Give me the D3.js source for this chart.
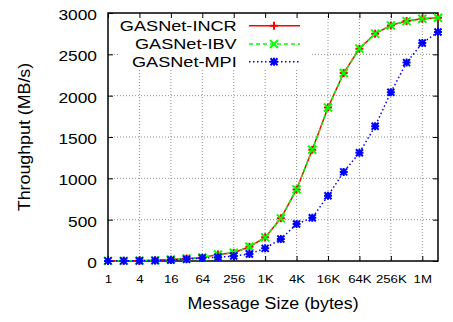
<!DOCTYPE html>
<html>
<head>
<meta charset="utf-8">
<title>GASNet throughput</title>
<style>
  body { margin: 0; background: #fff; }
  text { font-family: "Liberation Sans", Arial, sans-serif; fill: #000; }
</style>
</head>
<body>
<script src="https://d3js.org/d3.v7.min.js"></script>
<script>

// message sizes in bytes, one point per power of two
var sizes = [1, 2, 4, 8, 16, 32, 64, 128, 256, 512, 1024, 2048, 4096, 8192,
             16384, 32768, 65536, 131072, 262144, 524288, 1048576, 2097152];

// throughput in MB/s
var incr = [1, 2, 4, 8, 18, 30, 40, 80, 100, 173, 286, 516, 866, 1345,
            1856, 2274, 2569, 2750, 2850, 2902, 2931, 2943];
var ibv  = [1, 2, 4, 8, 18, 30, 42, 78, 100, 173, 286, 516, 866, 1345,
            1856, 2274, 2569, 2750, 2850, 2902, 2931, 2943];
var mpi  = [1, 2, 3, 6, 12, 22, 36, 45, 60, 85, 153, 266, 447, 523,
            789, 1078, 1310, 1630, 2041, 2400, 2637, 2770];

var seriesNames = ["GASNet-INCR", "GASNet-IBV", "GASNet-MPI"];
var xTicks = [1, 4, 16, 64, 256, 1024, 4096, 16384, 65536, 262144, 1048576];
var xTickLabels = ["1", "4", "16", "64", "256", "1K", "4K", "16K", "64K", "256K", "1M"];
var yTicks = [0, 500, 1000, 1500, 2000, 2500, 3000];

var colors = ["#ff0000", "#00ff00", "#0000ff"];
var dashes = [null, "4,3", "1.5,2.5"];
var markers = ["M-4,0H4M0,-4V4",
               "M-4,-4L4,4M-4,4L4,-4",
               "M-4,0H4M0,-4V4M-3.5,-3.5L3.5,3.5M-3.5,3.5L3.5,-3.5"];

var margin = {top: 13, right: 15, bottom: 61, left: 108},
    W = 453, H = 322,
    width = W - margin.left - margin.right,
    height = H - margin.top - margin.bottom;

var x = d3.scaleLog().base(2).domain([1, 2097152]).range([0, width]);
var y = d3.scaleLinear().domain([0, 3000]).range([height, 0]);

var svg = d3.select("body").append("svg")
    .attr("width", W)
    .attr("height", H);

var g = svg.append("g")
    .attr("transform", "translate(" + margin.left + "," + margin.top + ")");

// grid
g.selectAll(".vgrid").data(xTicks.slice(1)).enter().append("line")
    .attr("x1", function(d) { return x(d); })
    .attr("x2", function(d) { return x(d); })
    .attr("y1", 0).attr("y2", height)
    .style("stroke", "#909090").style("stroke-dasharray", "1,2");
g.selectAll(".hgrid").data(yTicks.slice(1, -1)).enter().append("line")
    .attr("x1", 0).attr("x2", width)
    .attr("y1", function(d) { return y(d); })
    .attr("y2", function(d) { return y(d); })
    .style("stroke", "#909090").style("stroke-dasharray", "1,2");

// legend box hides the grid behind it
g.append("rect")
    .attr("x", 10).attr("y", 0)
    .attr("width", 193).attr("height", 57)
    .style("fill", "#fff");

// axes (ticks point inward, mirrored on top and right)
var xAxis = g.append("g")
    .attr("transform", "translate(0," + height + ")")
    .call(d3.axisBottom(x).tickValues(xTicks)
        .tickFormat(function(d) { return xTickLabels[xTicks.indexOf(d)]; })
        .tickSize(-5).tickSizeOuter(0));
xAxis.selectAll("text")
    .attr("y", null).attr("dy", null)
    .attr("transform", "translate(0,21.7) scale(1.15,1)")
    .style("font-size", "11.5px");

var yAxis = g.append("g")
    .call(d3.axisLeft(y).tickValues(yTicks).tickFormat(d3.format("d"))
        .tickSize(-5).tickSizeOuter(0));
yAxis.selectAll("text")
    .attr("x", null).attr("dy", "0.35em")
    .attr("transform", "translate(-11,1) scale(1.12,1)")
    .style("font-size", "15.5px");

g.append("g")
    .call(d3.axisTop(x).tickValues(xTicks).tickFormat("").tickSize(-5).tickSizeOuter(0));
g.append("g")
    .attr("transform", "translate(" + width + ",0)")
    .call(d3.axisRight(y).tickValues(yTicks).tickFormat("").tickSize(-5).tickSizeOuter(0));

g.selectAll(".domain").remove();
g.selectAll(".tick line").style("stroke", "#000");

g.append("rect")
    .attr("width", width).attr("height", height)
    .style("fill", "none").style("stroke", "#000").style("stroke-width", 1.5);

// series
var allSeries = [incr, ibv, mpi];
var line = d3.line()
    .x(function(d) { return x(d.s); })
    .y(function(d) { return y(d.v); });

allSeries.forEach(function(vals, k) {
    var pts = sizes.map(function(s, i) { return {s: s, v: vals[i]}; });
    g.append("path")
        .datum(pts)
        .attr("d", line)
        .style("fill", "none")
        .style("stroke", colors[k])
        .style("stroke-width", 1.5)
        .style("stroke-dasharray", dashes[k]);
    g.selectAll(".pt" + k).data(pts).enter().append("path")
        .attr("transform", function(d) { return "translate(" + x(d.s) + "," + y(d.v) + ")"; })
        .attr("d", markers[k])
        .style("fill", "none")
        .style("stroke", colors[k])
        .style("stroke-width", 2);
});

// legend
var rowY = [12.7, 31, 48.7];
seriesNames.forEach(function(name, k) {
    g.append("text")
        .attr("text-anchor", "end")
        .attr("dy", "0.35em")
        .attr("transform", "translate(128.7," + rowY[k] + ") scale(1.17,1)")
        .style("font-size", "15.5px")
        .text(name);
    g.append("line")
        .attr("x1", 141).attr("x2", 192)
        .attr("y1", rowY[k]).attr("y2", rowY[k])
        .style("stroke", colors[k])
        .style("stroke-width", 1.5)
        .style("stroke-dasharray", dashes[k]);
    g.append("path")
        .attr("transform", "translate(166," + rowY[k] + ")")
        .attr("d", markers[k])
        .style("fill", "none")
        .style("stroke", colors[k])
        .style("stroke-width", 2);
});

// axis titles
svg.append("text")
    .attr("text-anchor", "middle")
    .attr("transform", "translate(" + (margin.left + width / 2) + ",309) scale(1.08,1)")
    .style("font-size", "16.5px")
    .text("Message Size (bytes)");

svg.append("text")
    .attr("text-anchor", "middle")
    .attr("transform", "translate(30," + (margin.top + height / 2) + ") rotate(-90) scale(1.08,1)")
    .style("font-size", "16.5px")
    .text("Throughput (MB/s)");

</script>
</body>
</html>
